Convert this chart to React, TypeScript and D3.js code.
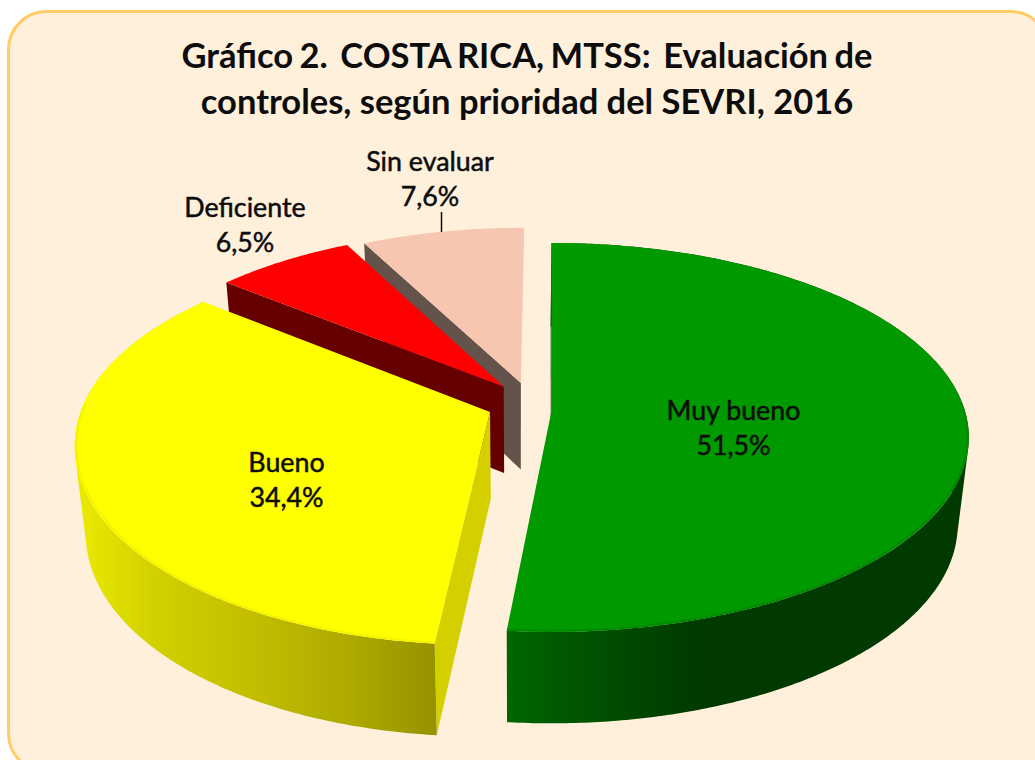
import React, { useEffect, useRef } from 'react';
import * as d3 from 'd3';

const categories = ['Muy bueno', 'Bueno', 'Deficiente', 'Sin evaluar'];
const values = [51.5, 34.4, 6.5, 7.6];

const topColors = ['#009900', '#ffff00', '#ff0000', '#f6c6b0'];
const cutColors = ['#003800', '#d4d000', '#660000', '#64534b'];
const wallColors = ['url(#wall-green)', 'url(#wall-yellow)', null, null];
const rimColors = ['#008a00', '#f4f400', null, null];

// explosion of each slice, in units of the pie radius
const explodeU = [0.004, -0.145, -0.114, -0.072];
const explodeV = [0, 0.01, -0.125, -0.145];
const sliceRadius = [1, 0.99, 0.97, 0.96];
const frontStretch = [1, 1.05, 1, 1];

const titleLines = ['Gráfico 2.  COSTA RICA, MTSS:  Evaluación de', 'controles, según prioridad del SEVRI, 2016'];
const titleWordSpacing = [-2, 0];
const labelX = [733.5, 286.5, 245, 430];
const labelY = [420, 472, 217, 171];

const greenStops: [number, string][] = [[0, '#006600'], [0.1, '#005a00'], [0.25, '#004a00'], [0.42, '#003a00'], [1, '#003a00']];
const yellowStops: [number, string][] = [[0, '#e8e800'], [0.2, '#d2d000'], [0.45, '#c4c000'], [0.75, '#aeaa00'], [1, '#969200']];

// the pie is tilted away from the viewer, so circles project to off-centre ellipses
const cx = 550, cy = 410, B = 413, A = 190.6, k = 0.141;
const depth = 87, vanishX = 520, shrink = 0.025;

function project(u: number, v: number, z: number): [number, number] {
  const d = 1 - k * v;
  const x = cx + (B * u) / d;
  const y = cy + (A * v) / d;
  return [vanishX + (x - vanishX) * (1 - shrink * z), y + z * (depth + (y - cy) * 0.02)];
}

const App = () => {
  const ref = useRef<SVGSVGElement>(null);

  useEffect(() => {
    const svg = d3.select(ref.current);
    svg.selectAll('*').remove();
    const line = d3.line();

    const defs = svg.append('defs');
    const addGradient = (id: string, x1: number, x2: number, stops: [number, string][]) => {
      const g = defs.append('linearGradient').attr('id', id)
        .attr('gradientUnits', 'userSpaceOnUse')
        .attr('x1', x1).attr('x2', x2).attr('y1', 0).attr('y2', 0);
      stops.forEach(s => g.append('stop').attr('offset', s[0]).attr('stop-color', s[1]));
    };
    addGradient('wall-green', 510, 960, greenStops);
    addGradient('wall-yellow', 84, 437, yellowStops);

    svg.append('rect')
      .attr('x', 8.5).attr('y', 11.5)
      .attr('width', 1040).attr('height', 760)
      .attr('rx', 38)
      .attr('fill', '#fff0dc')
      .attr('stroke', '#ffcc66')
      .attr('stroke-width', 3);

    const title = svg.append('g')
      .attr('font-family', 'Lato, "Open Sans", sans-serif')
      .attr('font-weight', 700)
      .attr('font-size', 34.5)
      .attr('text-anchor', 'middle')
      .attr('fill', '#0d0d0d');
    title.selectAll('text').data(titleLines).enter().append('text')
      .attr('x', 527)
      .attr('y', (d, i) => 68 + i * 46)
      .attr('xml:space', 'preserve')
      .attr('word-spacing', (d, i) => titleWordSpacing[i])
      .style('white-space', 'pre')
      .text(d => d);

    const piedata = d3.pie<number>().sort(null)(values);

    // painted back to front
    [3, 2, 1, 0].forEach(i => {
      const p = piedata[i];
      const r = sliceRadius[i];
      const pt = (a: number, rr: number, z: number) => {
        const c = -Math.cos(a);
        return project(explodeU[i] + rr * Math.sin(a), explodeV[i] + rr * c * (c > 0 ? frontStretch[i] : 1), z);
      };

      const steps = d3.range(p.startAngle, p.endAngle, 0.01).concat(p.endAngle);
      const topArc = steps.map(a => pt(a, r, 0));

      const g = svg.append('g');
      // face left by the cut at the slice's start angle
      g.append('path')
        .attr('d', line([pt(0, 0, 0), pt(p.startAngle, r, 0), pt(p.startAngle, r, 1), pt(0, 0, 1)]) + 'Z')
        .attr('fill', cutColors[i]);
      // outer wall as thin quads, all wound the same way, so the silhouette follows the tangent
      if (wallColors[i]) {
        const quads = steps.slice(1).map((a, j) => {
          const q = [pt(steps[j], r, 0), pt(a, r, 0), pt(a, r, 1), pt(steps[j], r, 1)] as [number, number][];
          return line(d3.polygonArea(q) < 0 ? q.reverse() : q) + 'Z';
        });
        g.append('path').attr('d', quads.join('')).attr('fill', wallColors[i]);
      }
      // top face
      g.append('path')
        .attr('d', line([pt(0, 0, 0), ...topArc]) + 'Z')
        .attr('fill', topColors[i]);
      // soft bevel along the front of the rim
      if (rimColors[i]) {
        g.append('path')
          .attr('d', line(steps.filter(a => -Math.cos(a) > -0.05).map(a => pt(a, r - 0.004, 0))))
          .attr('fill', 'none')
          .attr('stroke', rimColors[i])
          .attr('stroke-width', 2);
      }
    });

    const labels = svg.append('g')
      .attr('font-family', 'Lato, "Open Sans", sans-serif')
      .attr('font-size', 26.8)
      .attr('text-anchor', 'middle')
      .attr('fill', '#0d0d0d')
      .attr('stroke', '#0d0d0d')
      .attr('stroke-width', 0.5);
    const fmt = d3.format('.1f');
    categories.forEach((c, i) => {
      labels.append('text').attr('x', labelX[i]).attr('y', labelY[i]).text(c);
      labels.append('text').attr('x', labelX[i]).attr('y', labelY[i] + 35)
        .text(fmt(values[i]).replace('.', ',') + '%');
    });

    // leader line of "Sin evaluar"
    svg.append('line')
      .attr('x1', 441.5).attr('x2', 441.5)
      .attr('y1', 212).attr('y2', 232)
      .attr('stroke', '#0d0d0d')
      .attr('stroke-width', 1.5);
  }, []);

  return (
    <svg ref={ref} width={1035} height={760}
      style={{ position: 'absolute', left: 0, top: 0, background: '#fff' }} />
  );
};

export default App;
